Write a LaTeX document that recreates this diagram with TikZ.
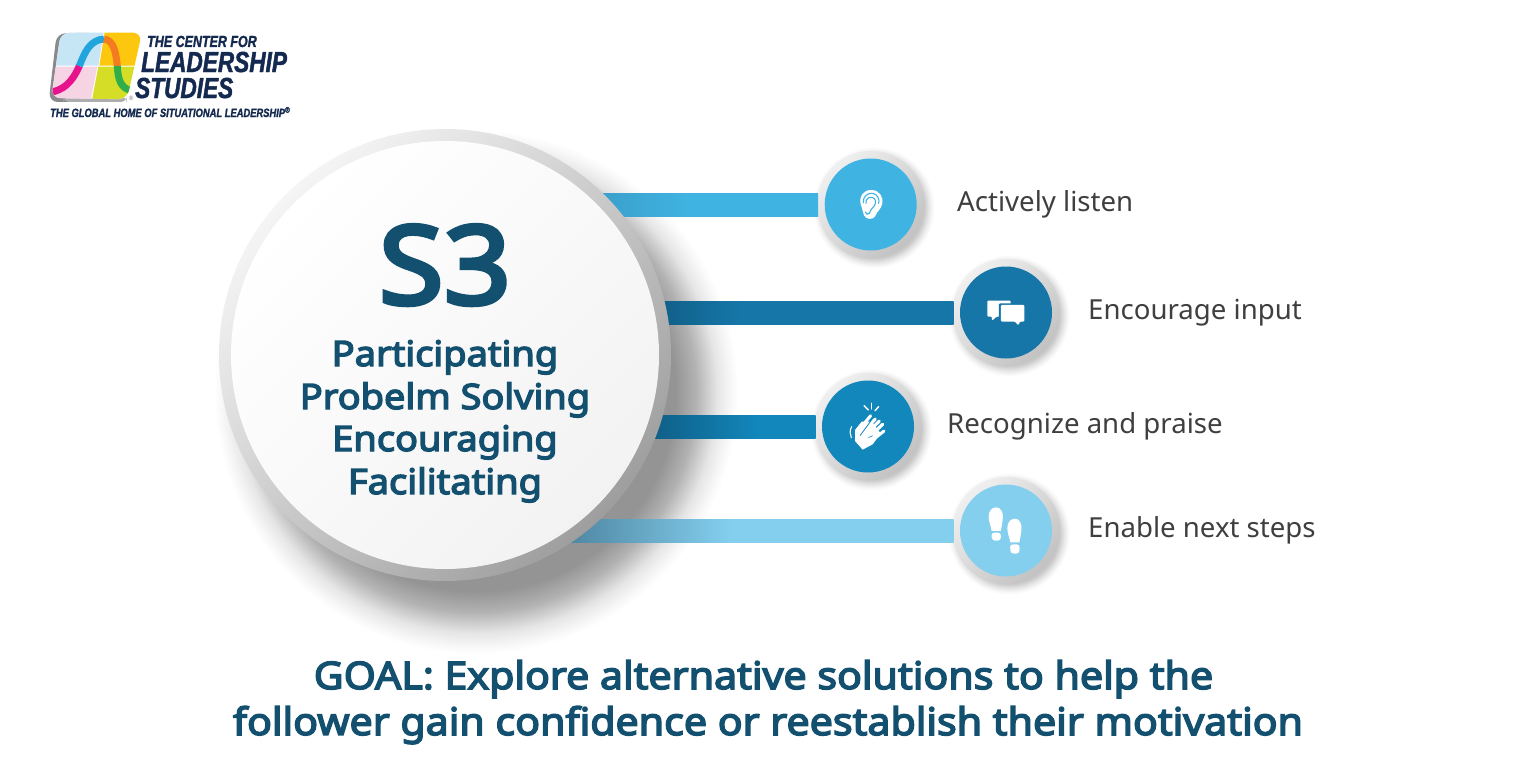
\documentclass[tikz,border=0pt]{standalone}
\usepackage{fontspec}
\setmainfont{Noto Sans}
\newfontfamily\nbold[FakeBold=4,FakeStretch=1.085]{Noto Sans}
\newfontfamily\logofont[FakeStretch=0.78,FakeBold=1.5]{Liberation Sans}
\usetikzlibrary{calc}
\definecolor{tealtxt}{HTML}{13506F}
\definecolor{labeltxt}{HTML}{3F3F3F}
\definecolor{navy}{HTML}{14294F}
\definecolor{cA}{HTML}{3FB4E2}
\definecolor{cB}{HTML}{1676A8}
\definecolor{cC}{HTML}{1287BC}
\definecolor{cD}{HTML}{84CFEE}
\definecolor{cAdark}{HTML}{3A9CC8}
\definecolor{cBdark}{HTML}{0F5A80}
\definecolor{cDdark}{HTML}{4F87A3}
\definecolor{lgTL}{HTML}{C6E6F6}
\definecolor{lgTR}{HTML}{FEC70F}
\definecolor{lgBL}{HTML}{F7D4E4}
\definecolor{lgBR}{HTML}{D6DD27}
\definecolor{lgFrame}{HTML}{8A8A8E}
\definecolor{crvBlue}{HTML}{22A5DC}
\definecolor{crvOrange}{HTML}{F47B20}
\definecolor{crvGreen}{HTML}{2FAE4A}
\definecolor{crvMag}{HTML}{E6138C}
\pgfdeclareradialshading{bigshadow}{\pgfpoint{0bp}{0bp}}{
 color(0bp)=(black!42); color(19bp)=(black!42); color(21bp)=(black!30); color(23bp)=(black!10); color(24.3bp)=(black!3); color(25bp)=(white); color(50bp)=(white)}
\pgfdeclareradialshading{smallshadow}{\pgfpoint{0bp}{0bp}}{
 color(0bp)=(black!22); color(20.5bp)=(black!22); color(22.5bp)=(black!10); color(24bp)=(black!3); color(25bp)=(white); color(50bp)=(white)}
\pgfdeclarehorizontalshading{barA}{100bp}{color(0bp)=(cAdark); color(25bp)=(cAdark); color(47bp)=(cA); color(100bp)=(cA)}
\pgfdeclarehorizontalshading{barB}{100bp}{color(0bp)=(cBdark); color(25bp)=(cBdark); color(41bp)=(cB); color(100bp)=(cB)}
\pgfdeclarehorizontalshading{barC}{100bp}{color(0bp)=(cBdark); color(25bp)=(cBdark); color(59bp)=(cC); color(100bp)=(cC)}
\pgfdeclarehorizontalshading{barD}{100bp}{color(0bp)=(cDdark); color(25bp)=(cDdark); color(46bp)=(cD); color(100bp)=(cD)}
\tikzset{
 hubnode/.style={circle,minimum size=452pt,inner sep=0pt,outer sep=0pt,draw=none,top color=black!4,bottom color=black!38,shading angle=45},
 ringnode/.style={circle,minimum size=107pt,inner sep=0pt,outer sep=0pt,draw=none,top color=black!6,bottom color=black!24,shading angle=45},
 discnode/.style={circle,minimum size=92pt,inner sep=0pt,outer sep=0pt,draw=none},
 lab/.style={anchor=base west,inner sep=0pt,font=\fontsize{27.6}{30}\selectfont,text=labeltxt},
 hubtxt/.style={anchor=base,inner sep=0pt,font=\nbold\fontsize{35}{40}\selectfont,text=tealtxt},
 goaltxt/.style={anchor=base,inner sep=0pt,font=\nbold\fontsize{37.9}{42}\selectfont,text=tealtxt},
 logotxt/.style={anchor=base west,inner sep=0pt,text=navy},
 icon/.style={fill=white,draw=none},
 iconline/.style={draw=white,line cap=round,line join=round},
 curve/.style={line width=7pt,line cap=butt},
}
\begin{document}
\begin{tikzpicture}[x=1pt,y=-1pt]
\useasboundingbox (0,0) rectangle (1536,768);
\fill[white] (0,0) rectangle (1536,768);
% big soft shadow
\shade[shading=bigshadow] (476,392) circle (262);
\coordinate (hubc) at (445,355);
\coordinate (pA) at (870.7,204.5);
\coordinate (pB) at (1006,312.5);
\coordinate (pC) at (868,426.5);
\coordinate (pD) at (1006,530.5);
% small shadows
\foreach \p in {pA,pB,pC,pD}{
 \shade[shading=smallshadow] ($(\p)+(3,3)$) circle (61);
}
% disc rings
\node[ringnode] (rA) at (pA) {};
\node[ringnode] (rB) at (pB) {};
\node[ringnode] (rC) at (pC) {};
\node[ringnode] (rD) at (pD) {};
% connector bars, running from behind the hub to each disc
\shade[shading=barA] ($(rA.west)+(-228,-11.5)$) rectangle ($(rA.west)+(1,11.5)$);
\shade[shading=barB] ($(rB.west)+(-313,-11.5)$) rectangle ($(rB.west)+(1,11.5)$);
\shade[shading=barC] ($(rC.west)+(-175,-11.5)$) rectangle ($(rC.west)+(1,11.5)$);
\shade[shading=barD] ($(rD.west)+(-383,-11.5)$) rectangle ($(rD.west)+(1,11.5)$);
% hub
\node[hubnode] (hub) at (hubc) {};
\node[circle,minimum size=428pt,inner sep=0pt,top color=white,bottom color=black!5,shading angle=45] (hubin) at (hubc) {};
\node[discnode,fill=cA] (dA) at (pA) {};
\node[discnode,fill=cB] (dB) at (pB) {};
\node[discnode,fill=cC] (dC) at (pC) {};
\node[discnode,fill=cD] (dD) at (pD) {};
% hub text
\node[anchor=base,inner sep=0pt,font=\nbold\fontsize{109}{120}\selectfont,text=tealtxt] (sthree) at (445,304) {S3};
\node[hubtxt] (t1) at (445,366) {Participating};
\node[hubtxt] (t2) at (445,409) {Probelm Solving};
\node[hubtxt] (t3) at (445,451) {Encouraging};
\node[hubtxt] (t4) at (445,494) {Facilitating};
% labels
\node[lab] (lA) at (957,211) {Actively listen};
\node[lab] (lB) at (1088,319) {Encourage input};
\node[lab] (lC) at (947,433) {Recognize and praise};
\node[lab] (lD) at (1088,537) {Enable next steps};
% goal
\node[goaltxt] (g1) at (763.5,689) {GOAL: Explore alternative solutions to help the};
\node[goaltxt] (g2) at (768,735) {follower gain confidence or reestablish their motivation};
% ear icon
\begin{scope}[shift={(800,140)},x=.3333pt,y=-.3333pt]
\fill[icon] (213,150) .. controls (240,150) and (250,172) .. (247,190) .. controls (244,208) and (232,212) .. (226,228) .. controls (220,240) and (198,240) .. (192,226) .. controls (188,212) and (186,205) .. (182,192) .. controls (176,170) and (190,150) .. (213,150) -- cycle;
\draw[cA,line width=1.1pt,line cap=round] (190,188) .. controls (188,168) and (205,158) .. (218,160) .. controls (232,162) and (240,178) .. (236,190);
\draw[cA,line width=1.1pt,line cap=round] (198,190) .. controls (196,176) and (208,170) .. (216,172) .. controls (226,174) and (230,186) .. (224,196) .. controls (218,204) and (212,208) .. (208,220) .. controls (204,226) and (198,222) .. (196,216);
\end{scope}
% chat icon
\begin{scope}[shift={(800,140)},x=.3333pt,y=-.3333pt]
\fill[icon,rounded corners=1pt] (562,482) -- (632,482) -- (632,530) -- (590,530) -- (576,542) -- (576,530) -- (562,530) -- cycle;
\fill[cB,rounded corners=1pt] (597,490) rectangle (678,550);
\fill[icon,rounded corners=1pt] (603,495) -- (673,495) -- (673,545) -- (660,545) -- (655,556) -- (645,545) -- (603,545) -- cycle;
\end{scope}
% clap icon
\begin{scope}[shift={(800,365)},x=.3333pt,y=-.3333pt]
\draw[iconline,line width=1.4pt] (192,122) -- (205,135);
\draw[iconline,line width=1.4pt] (215,115) -- (215,132);
\draw[iconline,line width=1.4pt] (236,125) -- (225,137);
\fill[icon] (165,228) -- (188,254) -- (218,238) -- (242,205) -- (215,170) -- (185,170) -- (165,195) -- cycle;
\draw[iconline,line width=3pt] (172,200) -- (212,152);
\draw[iconline,line width=3.2pt] (190,200) -- (226,162);
\draw[iconline,line width=3.2pt] (202,204) -- (238,168);
\draw[iconline,line width=3.2pt] (212,212) -- (248,178);
\draw[iconline,line width=3pt] (222,222) -- (252,198);
\draw[iconline,line width=1.1pt] (155,185) .. controls (148,198) and (150,208) .. (154,218);
\draw[cC,line width=.8pt] (180,212) -- (214,166);
\draw[cC,line width=.6pt] (205,218) -- (218,212);
\end{scope}
% footprints icon
\begin{scope}[shift={(800,365)},x=.3333pt,y=-.3333pt]
\fill[icon] (588,427) .. controls (604,427) and (612,445) .. (608,465) .. controls (606,480) and (604,490) .. (602,498) -- (575,498) .. controls (572,480) and (566,470) .. (566,455) .. controls (566,438) and (576,427) .. (588,427) -- cycle;
\fill[icon,rounded corners=3pt] (574,503) -- (603,503) -- (602,527) -- (576,527) -- cycle;
\fill[icon] (645,461) .. controls (660,461) and (667,478) .. (664,498) .. controls (662,512) and (660,524) .. (658,532) -- (631,532) .. controls (628,515) and (622,505) .. (622,490) .. controls (622,472) and (632,461) .. (645,461) -- cycle;
\fill[icon,rounded corners=3pt] (630,538) -- (659,538) -- (658,566) -- (632,566) -- cycle;
\end{scope}
% logo mark
\begin{scope}[shift={(30,20)},x=.3333pt,y=-.3333pt]
\fill[lgFrame,rounded corners=9pt] (80,40) -- (200,38) -- (200,246) -- (56,246) -- cycle;
\fill[lgFrame!70!white,rounded corners=6pt] (100,230) rectangle (290,246);
\begin{scope}
\clip[rounded corners=9pt] (92,38) -- (336,38) -- (291,238) -- (64,234) -- cycle;
\fill[white] (50,30) rectangle (345,250);
\fill[lgTL] (50,30) -- (222,30) -- (205,137) -- (50,137) -- cycle;
\fill[lgTR] (225,30) -- (345,30) -- (345,137) -- (208,137) -- cycle;
\fill[lgBL] (50,140) -- (202,140) -- (180,250) -- (50,250) -- cycle;
\fill[lgBR] (205,140) -- (345,140) -- (345,250) -- (184,250) -- cycle;
\draw[crvMag,curve] (58,218) .. controls (100,210) and (125,190) .. (148,138);
\draw[crvBlue,curve] (148,138) .. controls (165,95) and (180,60) .. (222,57);
\draw[crvOrange,curve] (222,57) .. controls (252,60) and (258,100) .. (262,138);
\draw[crvGreen,curve] (262,138) .. controls (264,175) and (270,205) .. (305,212);
\end{scope}
\end{scope}
\node[inner sep=0pt,font=\fontsize{6}{6}\selectfont,text=lgFrame] (regm) at (131,98) {®};
\node[logotxt,font=\logofont\fontsize{16}{16}\selectfont\bfseries\itshape] (lg1) at (147,47) {THE CENTER FOR};
\node[logotxt,font=\logofont\fontsize{29}{29}\selectfont\bfseries\itshape] (lg2) at (141,72) {LEADERSHIP};
\node[logotxt,font=\logofont\fontsize{29}{29}\selectfont\bfseries\itshape] (lg3) at (135,98) {STUDIES};
\node[logotxt,font=\logofont\fontsize{12}{12}\selectfont\bfseries\itshape] (lg4) at (50,117) {THE GLOBAL HOME OF SITUATIONAL LEADERSHIP\textsuperscript{®}};
\end{tikzpicture}
\end{document}
